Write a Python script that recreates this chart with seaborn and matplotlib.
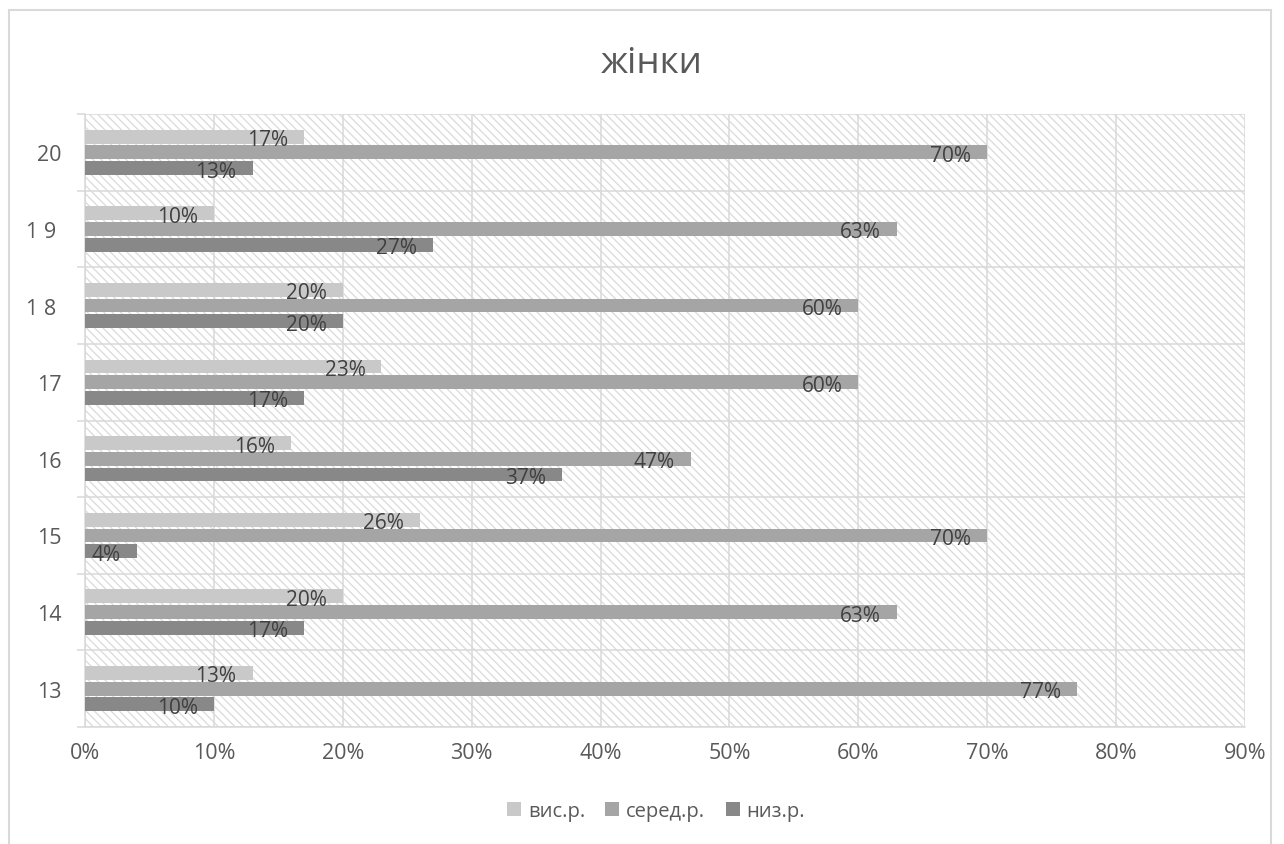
import matplotlib
matplotlib.use("Agg")
import matplotlib.pyplot as plt
from matplotlib.patches import Rectangle
from matplotlib.ticker import FixedLocator, PercentFormatter
import numpy as np
import pandas as pd
import seaborn as sns

# Survey results by age group: share of each level
ages = ["20", "1 9", "1 8", "17", "16", "15", "14", "13"]
levels = ["вис.р.", "серед.р.", "низ.р."]
high = [17, 10, 20, 23, 16, 26, 20, 13]
middle = [70, 63, 60, 60, 47, 70, 63, 77]
low = [13, 27, 20, 17, 37, 4, 17, 10]
level_colors = ["#c9c9c9", "#a5a5a5", "#888888"]
title = "жінки"

df = pd.DataFrame({
    "age": ages * 3,
    "level": [levels[0]] * len(ages) + [levels[1]] * len(ages) + [levels[2]] * len(ages),
    "value": [v / 100 for v in high + middle + low],
})

sns.set_theme(style="white")
plt.rcParams["font.family"] = ["Open Sans", "DejaVu Sans"]
plt.rcParams["hatch.linewidth"] = 0.9
plt.rcParams["hatch.color"] = "#dadada"

fig = plt.figure(figsize=(12.84, 8.45), dpi=100)
ax = fig.add_axes([85 / 1284, 1 - 728 / 845, 1160 / 1284, 613 / 845])

# hatched plot-area background
ax.add_patch(Rectangle((0, 0), 1, 1, transform=ax.transAxes, facecolor="white",
                       hatch="\\\\\\\\", edgecolor="#dadada", linewidth=0, zorder=0))

sns.barplot(data=df, y="age", x="value", hue="level", order=ages, hue_order=levels,
            palette=level_colors, orient="h", width=0.615, gap=0.12,
            saturation=1, linewidth=0, ax=ax, legend=True, zorder=3)

ax.set_xlim(0, 0.9)
ax.set_ylim(len(ages) - 0.5, -0.5)
ax.xaxis.set_major_locator(FixedLocator(np.arange(0, 0.91, 0.1)))
ax.xaxis.set_major_formatter(PercentFormatter(1.0, decimals=0))
ax.yaxis.set_minor_locator(FixedLocator(np.arange(-0.5, len(ages), 1)))
ax.set_yticks(range(len(ages)))
ax.set_yticklabels([a + (" " if " " in a else "") for a in ages])
ax.set_xlabel("")
ax.set_ylabel("")

grid_c = "#d9d9d9"
ax.grid(True, axis="x", which="major", color=grid_c, linewidth=1.1, zorder=1)
ax.grid(True, axis="y", which="minor", color=grid_c, linewidth=1.1, zorder=1)
ax.set_axisbelow(True)
for s in ["top", "right"]:
    ax.spines[s].set_visible(False)
for s in ["left", "bottom"]:
    ax.spines[s].set_color(grid_c)
    ax.spines[s].set_linewidth(1.1)

ax.tick_params(axis="x", which="major", length=0, pad=11, labelsize=15.5, labelcolor="#595959")
ax.tick_params(axis="y", which="major", length=0, pad=17, labelsize=15.5, labelcolor="#595959")
ax.tick_params(axis="y", which="minor", length=6, width=1.1, color=grid_c, left=True)

# value labels at the inside end of each bar
for container in ax.containers:
    for bar in container:
        w = bar.get_width()
        yc = bar.get_y() + bar.get_height() / 2
        ax.annotate(f"{w * 100:.0f}%", xy=(w, yc), xytext=(-16, -3),
                    textcoords="offset pixels", ha="right", va="center",
                    fontsize=15, color="#404040", zorder=5)

# legend below the plot
handles, labels = ax.get_legend_handles_labels()
ax.legend_.remove()
fig.legend(handles, labels, loc="center", bbox_to_anchor=(656 / 1284, 1 - 812 / 845),
           ncol=3, frameon=False, fontsize=14.5, handlelength=0.7, handleheight=0.7,
           handletextpad=0.35, columnspacing=1.0, labelcolor="#595959")

fig.text(652 / 1284, 1 - 73 / 845, title, ha="center", va="baseline",
         fontsize=26.5, color="#595959")

# chart-area border
fig.add_artist(Rectangle((9 / 1284, -0.01), 1262 / 1284, 1 - 11 / 845 + 0.01,
                         transform=fig.transFigure, fill=False, edgecolor="#d9d9d9",
                         linewidth=1.5))

fig.savefig("out.png", dpi=100)
